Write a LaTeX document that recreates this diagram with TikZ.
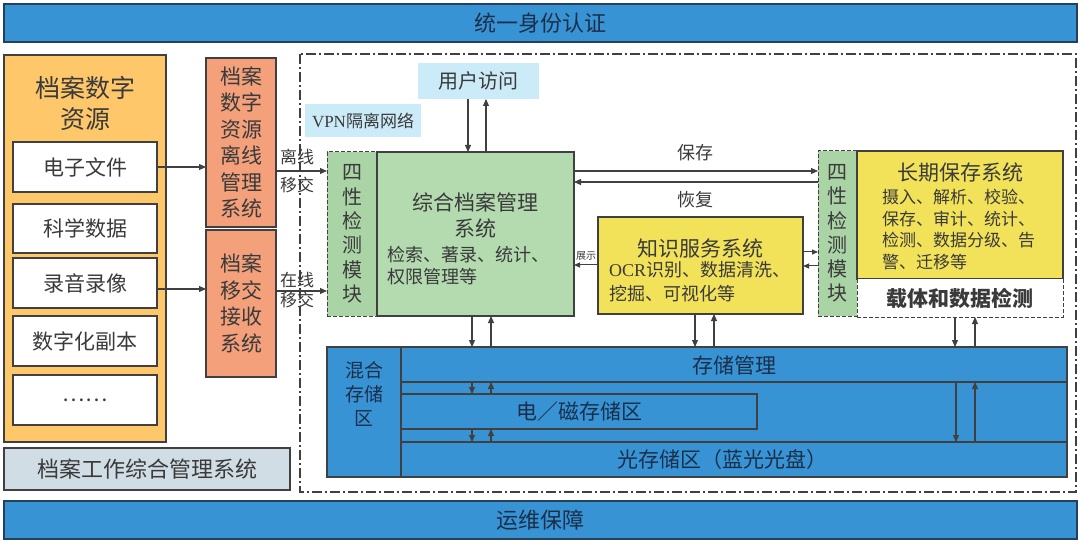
\documentclass[tikz,border=0pt]{standalone}
\usepackage{fontspec}
\setmainfont{Noto Sans CJK SC}
\newfontfamily\tms{Liberation Serif}
\usetikzlibrary{arrows.meta}
\definecolor{barblue}{HTML}{3793D3}
\definecolor{bardark}{HTML}{24405C}
\definecolor{navy}{HTML}{1B2F4B}
\definecolor{txt}{HTML}{3A3A3A}
\definecolor{edge}{HTML}{404040}
\definecolor{orangef}{HTML}{FDC76A}
\definecolor{salmon}{HTML}{F3A07B}
\definecolor{greenf}{HTML}{B4DBB0}
\definecolor{greenl}{HTML}{AAD4A6}
\definecolor{yellowf}{HTML}{F2E25A}
\definecolor{lblue}{HTML}{CCEBF8}
\definecolor{grayf}{HTML}{D1DDE5}
\newcommand{\fs}[2]{\fontsize{#1pt}{#2pt}\selectfont}
\begin{document}
\begin{tikzpicture}[x=1pt,y=-1pt,
  every node/.style={inner sep=0pt,outer sep=0pt,text=txt},
  bx/.style={draw=edge,line width=1.1pt},
  bar/.style={bx,draw=bardark,fill=barblue,text=navy},
  dbx/.style={draw=edge,line width=1pt,dash pattern=on 4pt off 2pt},
  arr/.style={draw=edge,line width=1.1pt,-{Triangle[length=7pt,width=6pt]}},
  ddot/.style={draw=edge,line width=1.1pt,dash pattern=on 10pt off 3pt on 2pt off 3pt}
]
\useasboundingbox (0,0) rectangle (1081,545);
% bars
\node[bar,minimum width=1073pt,minimum height=38pt,font=\fs{22}{24}] (top) at (540.5,23) {统一身份认证};
\node[bar,minimum width=1073pt,minimum height=38pt,font=\fs{22}{24}] (bot) at (540.5,520) {运维保障};
% outer dash-dot region
\draw[ddot] (300,54) rectangle (1076,492);
% left orange
\node[bx,fill=orangef,minimum width=162pt,minimum height=387pt] (src) at (85,248.5) {};
\node[font=\fs{25}{31},align=center] (srct) at (85,103) {档案数字\\资源};
\foreach \n/\y/\h/\t in {e1/167/50/电子文件, e2/228.5/49/科学数据, e3/283/50/录音录像, e4/341/50/数字化副本, e5/400/50/……}{
  \node[bx,fill=white,minimum width=144pt,minimum height=\h pt,font=\fs{21}{24}] (\n) at (85,\y) {\t};
}
\node[bx,fill=grayf,minimum width=286pt,minimum height=42pt,font=\fs{22}{24}] (gw) at (147,469) {档案工作综合管理系统};
% salmon boxes
\node[bx,fill=salmon,minimum width=70pt,minimum height=169pt,font=\fs{21}{26.5},align=center] (off) at (241,142.5) {档案\\数字\\资源\\离线\\管理\\系统};
\node[bx,fill=salmon,minimum width=70pt,minimum height=147pt,font=\fs{21}{26.5},align=center] (onl) at (241,303.5) {档案\\移交\\接收\\系统};
% user access, vpn
\node[fill=lblue,minimum width=121pt,minimum height=36pt,font=\fs{20}{24}] (user) at (478.5,81) {用户访问};
\node[fill=lblue,minimum width=116pt,minimum height=33pt,font=\fs{17}{20}] (vpn) at (363,120.5) {{\tms VPN}隔离网络};
% left four-property module
\node[dbx,fill=greenl,minimum width=50pt,minimum height=164pt,font=\fs{20}{24.3},align=center] (fl) at (352,234) {四\\性\\检\\测\\模\\块};
\node[bx,fill=greenf,minimum width=197pt,minimum height=164pt] (zh) at (475.5,234) {};
\node[font=\fs{21}{26},align=center] (zht) at (475.5,215) {综合档案管理\\系统};
\node[font=\fs{18}{22},align=left,anchor=west] (zhd) at (387,266) {检索、著录、统计、\\权限管理等};
% knowledge service
\node[bx,fill=yellowf,minimum width=205pt,minimum height=97pt] (ks) at (700.5,265.5) {};
\node[font=\fs{21}{24}] (kst) at (700.5,248) {知识服务系统};
\node[font=\fs{18}{24},align=left,anchor=west] (ksd) at (609,282) {{\tms OCR}识别、数据清洗、\\挖掘、可视化等};
% right four-property module
\node[dbx,fill=greenl,minimum width=39pt,minimum height=165pt,font=\fs{20}{24.3},align=center] (fr) at (837.5,233.5) {四\\性\\检\\测\\模\\块};
\node[bx,fill=yellowf,minimum width=206pt,minimum height=128pt] (lt) at (960,215) {};
\node[font=\fs{21}{24}] (ltt) at (960,173) {长期保存系统};
\node[font=\fs{17}{21.7},align=left,anchor=west] (ltd) at (882,229.5) {摄入、解析、校验、\\保存、审计、统计、\\检测、数据分级、告\\警、迁移等};
\node[dbx,fill=white,minimum width=206pt,minimum height=38pt,font=\fs{21}{24}\bfseries] (cd) at (960,298) {载体和数据检测};
% storage
\node[bx,fill=barblue,minimum width=740pt,minimum height=130pt] (st) at (697,412) {};
\draw[bx] (401,347) -- (401,477);
\node[font=\fs{19}{24},align=center,text=navy] (stt) at (364,394) {混合\\存储\\区};
\node[bx,fill=barblue,minimum width=666pt,minimum height=35pt] (sm) at (734,364.5) {};
\node[font=\fs{21}{24},text=navy] (smt) at (734,365) {存储管理};
\node[bx,fill=barblue,minimum width=356pt,minimum height=35pt,font=\fs{21}{24},text=navy] (em) at (579,411.5) {电／磁存储区};
\node[bx,fill=barblue,minimum width=666pt,minimum height=35pt] (op) at (734,459.5) {};
\node[font=\fs{21}{24},text=navy] (opt) at (722,460) {光存储区（蓝光光盘）};
% arrows left
\draw[arr] (e1.east) -- (e1.east -| off.west);
\draw[arr] (e3.east |- 0,289) -- (off.west |- 0,289);
\draw[arr] (off.east |- 0,171) -- (fl.west |- 0,171);
\draw[arr] (onl.east |- 0,291) -- (fl.west |- 0,291);
\node[font=\fs{17}{20}] (lx1) at (297,157) {离线};
\node[font=\fs{17}{20}] (lx2) at (297,185) {移交};
\node[font=\fs{17}{20}] (zx1) at (297,280) {在线};
\node[font=\fs{17}{20}] (zx2) at (297,300) {移交};
% user access arrows
\draw[arr] (user.south -| 468,0) -- (zh.north -| 468,0);
\draw[arr] (zh.north -| 486,0) -- (user.south -| 486,0);
% save / restore
\draw[arr] (zh.east |- 0,171) -- (fr.west |- 0,171);
\draw[arr] (fr.west |- 0,182) -- (zh.east |- 0,182);
\node[font=\fs{18}{20}] (sv) at (695,153) {保存};
\node[font=\fs{18}{20}] (rc) at (695,200) {恢复};
% show
\draw[arr,line width=1pt,-{Triangle[length=6pt,width=5pt]}] (ks.west |- 0,265) -- (zh.east |- 0,265);
\node[font=\fs{10}{12}] (sh) at (586,256) {展示};
\draw[arr,line width=1pt,-{Triangle[length=6pt,width=5pt]}] (ks.east |- 0,252) -- (fr.west |- 0,252);
\draw[arr,line width=1pt,-{Triangle[length=6pt,width=5pt]}] (fr.west |- 0,266) -- (ks.east |- 0,266);
% to storage
\draw[arr] (zh.south -| 472,0) -- (st.north -| 472,0);
\draw[arr] (st.north -| 491,0) -- (zh.south -| 491,0);
\draw[arr] (ks.south -| 695,0) -- (st.north -| 695,0);
\draw[arr] (st.north -| 714,0) -- (ks.south -| 714,0);
\draw[arr] (cd.south -| 955,0) -- (st.north -| 955,0);
\draw[arr] (st.north -| 975,0) -- (cd.south -| 975,0);
% between storage bands
\draw[arr] (sm.south -| 472,0) -- (em.north -| 472,0);
\draw[arr] (em.north -| 491,0) -- (sm.south -| 491,0);
\draw[arr] (em.south -| 472,0) -- (op.north -| 472,0);
\draw[arr] (op.north -| 491,0) -- (em.south -| 491,0);
\draw[arr] (sm.south -| 956,0) -- (op.north -| 956,0);
\draw[arr] (op.north -| 975,0) -- (sm.south -| 975,0);
\end{tikzpicture}
\end{document}
